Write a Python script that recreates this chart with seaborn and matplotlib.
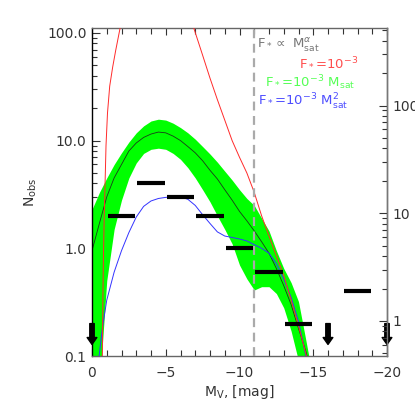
import numpy as np
import matplotlib
matplotlib.use('Agg')
import matplotlib.pyplot as plt
from matplotlib.ticker import FixedLocator, MultipleLocator, LogLocator, FuncFormatter, NullFormatter
import seaborn as sns

# model band (green): median and scatter
mv_band = [0, -0.5, -1, -1.5, -2, -2.5, -3, -3.5, -4, -4.5, -5, -5.5, -6, -6.5, -7, -7.5,
           -8, -8.5, -9, -9.5, -10, -10.5, -11, -11.5, -12, -12.5, -13, -13.5, -14, -14.5, -15]
band_hi = [2.3, 3.3, 4.5, 6.0, 7.7, 9.7, 11.8, 13.7, 15.2, 15.8, 15.5, 14.5, 13.2, 11.8, 10.3, 8.8,
           7.5, 6.3, 5.2, 4.3, 3.5, 2.9, 2.5, 1.9, 1.45, 0.95, 0.65, 0.48, 0.32, 0.14, 0.06]
band_lo = [0.03, 0.05, 0.5, 1.5, 2.8, 4.5, 6.2, 7.6, 8.3, 8.5, 8.3, 7.6, 6.7, 5.6, 4.5, 3.5,
           2.7, 2.0, 1.5, 1.1, 0.7, 0.52, 0.41, 0.44, 0.44, 0.38, 0.28, 0.17, 0.09, 0.04, 0.02]
band_med = [0.95, 1.7, 3.0, 4.5, 6.0, 8.0, 9.5, 10.7, 11.5, 12.0, 11.8, 11.0, 10.0, 8.8, 7.7, 6.5,
            5.3, 4.4, 3.5, 2.8, 2.2, 1.8, 1.45, 1.15, 0.9, 0.65, 0.45, 0.3, 0.18, 0.11, 0.06]

# F* = 1e-3 Msat^2 (blue)
mv_blue = [-0.4, -0.7, -1.0, -1.5, -2, -2.5, -3, -3.5, -4, -4.5, -5, -5.5, -6, -6.5, -7, -7.5,
           -8, -8.5, -9, -9.5, -10, -10.5, -11, -11.5, -12, -12.5, -13, -13.5, -14, -14.5, -14.8]
n_blue = [0.08, 0.18, 0.33, 0.6, 0.95, 1.4, 1.95, 2.45, 2.75, 2.9, 2.97, 3.0, 3.0, 2.85, 2.5, 2.05,
          1.7, 1.42, 1.3, 1.26, 1.22, 1.17, 1.08, 1.0, 0.9, 0.72, 0.52, 0.35, 0.21, 0.1, 0.07]

# F* = 1e-3 (red)
mv_red = [-0.69, -0.70, -0.74, -0.78, -0.83, -0.88, -0.95, -1.05, -1.2, -1.4, -1.6, -1.9, -2.2, -4.5,
          -6.9, -7.5, -8.0, -8.5, -9.0, -9.5, -10.0, -10.5, -11.0, -11.5, -12.0, -12.5, -13.0,
          -13.5, -14.0, -14.5, -14.7]
n_red = [0.08, 0.1, 0.35, 0.9, 2.0, 3.7, 9, 18, 32, 48, 68, 110, 150, 2000,
         111, 62, 38, 24, 15.5, 10, 7.0, 5.0, 3.3, 2.0, 1.3, 0.85, 0.56,
         0.33, 0.19, 0.105, 0.08]

# observed counts per 2-mag bin
bin_lo = [-1, -3, -5, -7, -9, -11, -13, -17]
bin_hi = [-3, -5, -7, -9, -11, -13, -15, -19]
n_obs = [2, 4, 3, 2, 1, 0.6, 0.2, 0.4]

# upper limits
ul_mv = [0, -16, -20]
ul_n = [0.2, 0.2, 0.2]

mv_cut = -11
right_scale = 4.73

sns.set_style('ticks')
plt.rcParams['font.family'] = ['DejaVu Sans']

W = 415
fig = plt.figure(figsize=(4.15, 4.15), dpi=100)
ax = fig.add_axes([92 / W, 59 / W, 295 / W, 328 / W])
ax.set_yscale('log')

ax.fill_between(mv_band, band_lo, band_hi, color='#00ff00', lw=0, zorder=1)
sns.lineplot(x=mv_band, y=band_med, ax=ax, color='#1a3a1a', lw=0.6, sort=False, zorder=2)
sns.lineplot(x=mv_blue, y=n_blue, ax=ax, color='#3333ff', lw=0.7, sort=False, zorder=3)
sns.lineplot(x=mv_red, y=n_red, ax=ax, color='#ff2a2a', lw=0.7, sort=False, zorder=3)

ax.axvline(mv_cut, color='#aaaaaa', lw=1.6, dashes=(4, 2.5), zorder=4)

ax.hlines(n_obs, np.array(bin_lo) - 0.07, np.array(bin_hi) + 0.07, color='black',
          lw=3, capstyle='butt', zorder=5)

for x, n in zip(ul_mv, ul_n):
    ax.annotate('', xy=(x, n * 0.64), xytext=(x, n), annotation_clip=False,
                arrowprops=dict(width=3.2, headwidth=7, headlength=5, color='black',
                                shrink=0), zorder=6)

ax.set_xlim(0, -20)
ax.set_ylim(0.1, 111)

tick_col = '#333333'
ax.xaxis.set_major_locator(MultipleLocator(5))
ax.xaxis.set_minor_locator(MultipleLocator(1))
ax.yaxis.set_major_locator(FixedLocator([0.1, 1, 10, 100]))
ax.yaxis.set_minor_locator(LogLocator(base=10, subs=np.arange(2, 10)))
ax.yaxis.set_major_formatter(FuncFormatter(lambda v, p: f'{v:.1f}'))
ax.yaxis.set_minor_formatter(NullFormatter())
ax.tick_params(which='both', direction='in', top=True, right=False, colors=tick_col,
               labelsize=10, labelcolor=tick_col)
ax.tick_params(axis='x', which='major', length=5, width=0.8, pad=7)
ax.tick_params(axis='x', which='minor', length=4, width=0.8)
ax.tick_params(axis='y', which='major', length=6, width=0.8, pad=4)
ax.tick_params(axis='y', which='minor', length=3.5, width=0.8)
for s in ax.spines.values():
    s.set_color('#666666')
    s.set_linewidth(1.0)
ax.spines['left'].set_color('black')

ax2 = ax.twinx()
ax2.set_yscale('log')
ax2.set_ylim(0.1 * right_scale, 111 * right_scale)
ax2.yaxis.set_major_locator(FixedLocator([1, 10, 100]))
ax2.yaxis.set_minor_locator(LogLocator(base=10, subs=np.arange(2, 10)))
ax2.yaxis.set_major_formatter(FuncFormatter(lambda v, p: f'{v:g}'))
ax2.yaxis.set_minor_formatter(NullFormatter())
ax2.tick_params(which='both', direction='in', colors=tick_col, labelsize=10, labelcolor=tick_col)
ax2.tick_params(which='major', length=6, width=0.8, pad=4)
ax2.tick_params(which='minor', length=3.5, width=0.8)
for s in ax2.spines.values():
    s.set_visible(False)
ax2.spines['right'].set_visible(True)
ax2.spines['right'].set_color('#777777')
ax2.spines['right'].set_linewidth(1.0)

ax.set_xlabel(r'M$_{\rm V}$, [mag]', fontsize=10, color=tick_col, labelpad=2)
ax.set_ylabel(r'N$_{\rm obs}$', fontsize=10, color=tick_col, labelpad=6)

def ptxt(x, y, s, c):
    fig.text(x / W, 1 - y / W, s, color=c, fontsize=9.5, ha='left', va='baseline')

ptxt(257, 48, r'F$_*$$\propto$ M$_{\rm sat}^{\alpha}$', '#777777')
ptxt(299, 67, r'F$_*$=10$^{-3}$', '#ff4d4d')
ptxt(265, 87, r'F$_*$=10$^{-3}$ M$_{\rm sat}$', '#55ff55')
ptxt(258, 106, r'F$_*$=10$^{-3}$ M$_{\rm sat}^{2}$', '#4d4dff')

fig.savefig('out.png', dpi=100)
